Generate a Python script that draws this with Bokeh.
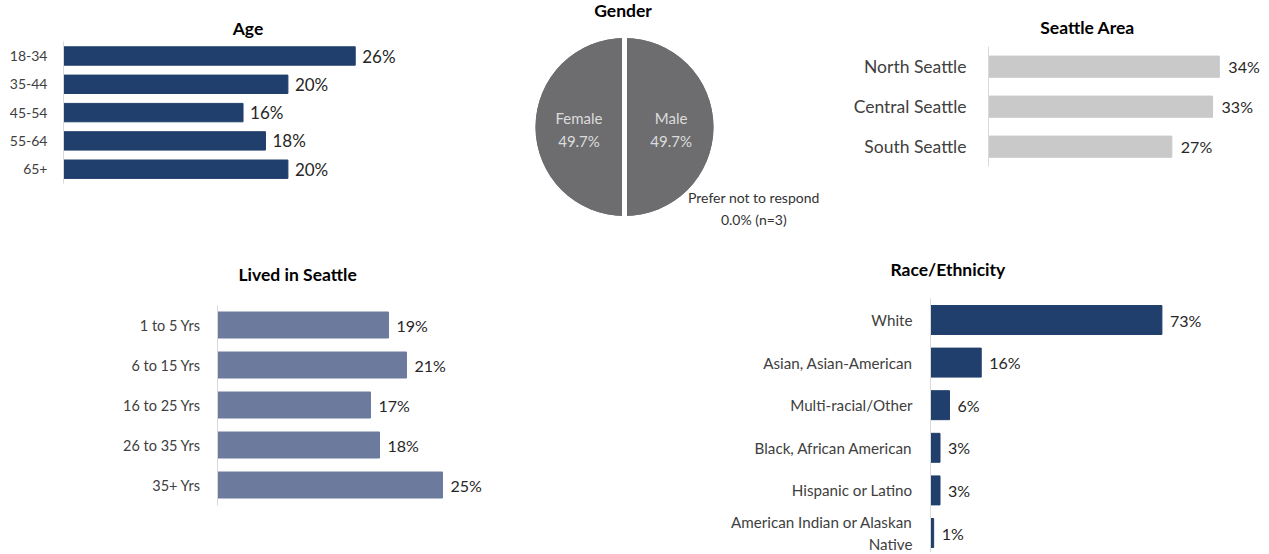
import math
from bokeh.plotting import figure
from bokeh.layouts import column, row
from bokeh.models import Range1d, ColumnDataSource, FixedTicker, Label
from bokeh.core.properties import value
from bokeh.embed import file_html
from bokeh.resources import INLINE

# ---------------- data ----------------
age_cats = ["18-34", "35-44", "45-54", "55-64", "65+"]
age_vals = [26, 20, 16, 18, 20]

gender_cats = ["Male", "Female", "Prefer not to respond"]
gender_vals = [49.7, 49.7, 0.0]
gender_texts = ["Male\n49.7%", "Female\n49.7%", "Prefer not to respond\n0.0% (n=3)"]

area_cats = ["North Seattle", "Central Seattle", "South Seattle"]
area_vals = [34, 33, 27]

lived_cats = ["1 to 5 Yrs", "6 to 15 Yrs", "16 to 25 Yrs", "26 to 35 Yrs", "35+ Yrs"]
lived_vals = [19, 21, 17, 18, 25]

race_cats = ["White", "Asian, Asian-American", "Multi-racial/Other",
             "Black, African American", "Hispanic or Latino",
             "American Indian or Alaskan\nNative"]
race_vals = [73, 16, 6, 3, 3, 1]

# ---------------- style ----------------
FONT = "Lato"
DARK_BLUE = "#203F6C"
MID_BLUE = "#6B7A9D"
LIGHT_GRAY = "#C9C9C9"
PIE_GRAY = "#6D6D6F"
AXIS_GRAY = "#D9D9D9"
CAT_COLOR = "#404040"
VAL_COLOR = "#262626"
TITLE_SIZE = "17.5px"

TOP_H = 250
BOT_H = 302


def add_title(p, text, x, y):
    p.add_layout(Label(x=x, y=y, text=text, text_align="center",
                       text_baseline="middle", text_font=FONT,
                       text_font_size=TITLE_SIZE, text_font_style="bold",
                       text_color="#000000"))


def set_plot_title(p, text, offset, standoff):
    p.title.text = text
    p.title.align = "left"
    p.title.offset = offset
    p.title.standoff = standoff
    p.title.text_font = FONT
    p.title.text_font_size = TITLE_SIZE
    p.title.text_font_style = "bold"
    p.title.text_color = "#000000"


def bar_panel(title, cats, vals, color, width, height, bl, px_per_unit,
              first_center, spacing, row_top, frame_top, title_xy, bar_h,
              cat_size, val_size, standoff, val_off):
    """first_center / title_xy are pixel positions (layout), converted to the
    panel's own data space so everything is placed through its scales."""
    frame_w = width - bl
    y_top = (frame_top - first_center) / spacing
    y_bot = (row_top + height - first_center) / spacing
    p = figure(width=width, height=height,
               x_range=Range1d(0, frame_w / px_per_unit),
               y_range=Range1d(y_bot, y_top),
               x_axis_location=None, output_backend="svg", toolbar_location=None,
               min_border_left=bl, min_border_right=0,
               min_border_top=frame_top - row_top, min_border_bottom=0)
    idx = list(range(len(cats)))
    src = ColumnDataSource(dict(y=idx, val=vals, lab=[f"{v}%" for v in vals]))
    p.hbar(y="y", right="val", left=0, height=bar_h, source=src,
           fill_color=color, line_color=color)
    p.text(x="val", y="y", text="lab", source=src, x_offset=val_off,
           text_baseline="middle", text_align="left",
           text_font=value(FONT), text_font_size=f"{val_size}px",
           text_color=VAL_COLOR)
    if title_xy is not None:
        add_title(p, title, (title_xy[0] - bl) / px_per_unit,
                  (title_xy[1] - first_center) / spacing)
    ax = p.yaxis[0]
    ax.ticker = FixedTicker(ticks=idx)
    ax.major_label_overrides = {i: c for i, c in zip(idx, cats)}
    ax.bounds = (-0.5, len(cats) - 0.5)
    ax.axis_line_color = AXIS_GRAY
    ax.major_tick_line_color = None
    ax.minor_tick_line_color = None
    ax.major_tick_out = 0
    ax.major_tick_in = 0
    ax.minor_tick_out = 0
    ax.major_label_standoff = int(standoff)
    ax.major_label_text_font = FONT
    ax.major_label_text_font_size = f"{cat_size}px"
    ax.major_label_text_color = CAT_COLOR
    p.grid.visible = False
    p.outline_line_color = None
    return p


G_X0, G_W = 430, 415          # gender panel left edge / width
A_X0 = G_X0 + G_W             # seattle-area panel left edge
A_W = 1269 - A_X0
BOT_FRAME_TOP = TOP_H + 34

age = bar_panel("Age", age_cats, age_vals, DARK_BLUE, G_X0, TOP_H, 63, 11.22,
                55.5, 28.3, 0, 0, (247.5, 28), 0.65, 14, 17, 16, 7)
area = bar_panel("Seattle Area", area_cats, area_vals, LIGHT_GRAY, A_W, TOP_H,
                 988 - A_X0, 6.79, 66.2, 40.0, 0, 0, (1087 - A_X0, 26.7), 0.53,
                 17.5, 16, 22, 9)
lived = bar_panel("Lived in Seattle", lived_cats, lived_vals, MID_BLUE, 600, BOT_H, 217, 9.0,
                  324.5, 40.0, TOP_H, BOT_FRAME_TOP, None, 0.65, 14.5, 16, 17, 8)
race = bar_panel("Race/Ethnicity", race_cats, race_vals, DARK_BLUE, 669, BOT_H, 330, 3.17,
                 319.5, 42.6, TOP_H, BOT_FRAME_TOP, None, 0.68, 15.2, 16, 18, 8)
# bottom-row titles sit above / beside their frames, so they are plot Titles
set_plot_title(lived, "Lived in Seattle", 21, 0)
set_plot_title(race, "Race/Ethnicity", -40, 10)

# ---------------- gender pie ----------------
PX = 89.0                     # pixels per data unit (pie radius 1)
cx_px, cy_px = 624.0 - G_X0, 126.5
gender = figure(width=G_W, height=TOP_H,
                x_range=Range1d(-cx_px / PX, (G_W - cx_px) / PX),
                y_range=Range1d(-(TOP_H - cy_px) / PX, cy_px / PX),
                x_axis_location=None, y_axis_location=None,
                output_backend="svg", toolbar_location=None,
                min_border_left=0, min_border_right=0,
                min_border_top=0, min_border_bottom=0)
gender.grid.visible = False
gender.outline_line_color = None

total = sum(gender_vals)
starts, ends = [], []
acc = 0.0
for v in gender_vals:
    starts.append(math.pi / 2 - 2 * math.pi * acc / total)
    acc += v
    ends.append(math.pi / 2 - 2 * math.pi * acc / total)
gsrc = ColumnDataSource(dict(cat=gender_cats, start=starts, end=ends))
gender.wedge(x=0, y=0, radius=1.0, start_angle="start", end_angle="end",
             direction="clock", source=gsrc, fill_color=PIE_GRAY,
             line_color=None)
# white separators on the slice boundaries
gender.ray(x=0, y=0, length=1.05, angle="start", source=gsrc,
           line_color="white", line_width=5)

add_title(gender, "Gender", (622.5 - 624) / PX, (126.5 - 10) / PX)

PIE_LABEL_POS = [(0.524, -0.027), (-0.511, -0.027), (1.453, -0.918)]
PIE_LABEL_COLORS = ["#DCDCDC", "#DCDCDC", "#333333"]
PIE_LABEL_SIZES = ["15px", "15px", "14px"]
lsrc = ColumnDataSource(dict(x=[q[0] for q in PIE_LABEL_POS],
                             y=[q[1] for q in PIE_LABEL_POS],
                             t=gender_texts, c=PIE_LABEL_COLORS,
                             s=PIE_LABEL_SIZES))
gender.text(x="x", y="y", text="t", text_color="c", text_font_size="s",
            source=lsrc, text_align="center", text_baseline="middle",
            text_font=value(FONT), text_line_height=1.3)

layout = column(row(age, gender, area), row(lived, race))
open("out.html", "w").write(file_html(layout, INLINE))
